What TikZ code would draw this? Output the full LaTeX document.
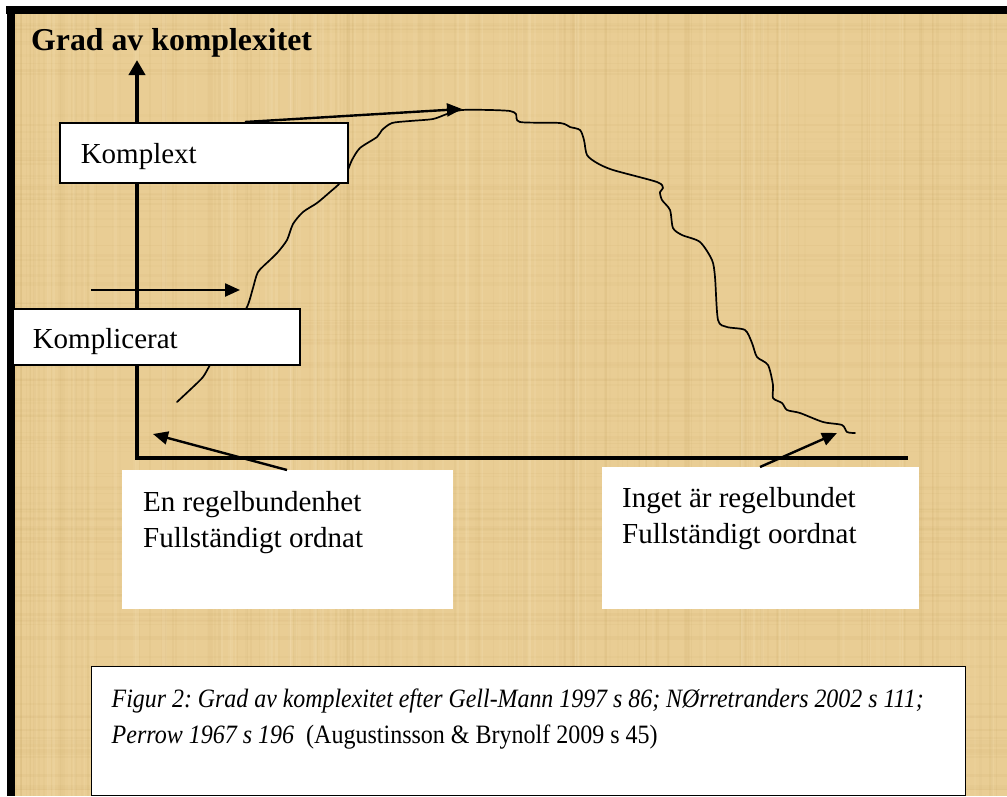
\documentclass[tikz,border=0pt]{standalone}
\usepackage{fontspec}
\setmainfont{Liberation Serif}
\usepackage{graphicx}
\usetikzlibrary{arrows.meta}
\definecolor{papyrus}{RGB}{233,205,148}
\definecolor{papyrusdark}{RGB}{190,155,85}
\definecolor{papyruslight}{RGB}{248,230,190}

% width, height, indent, first baseline, text
\newcommand{\boxtxt}[5]{%
  \begin{minipage}[t][#2pt][t]{#1pt}\fontsize{29}{36.5}\selectfont\raggedright\leftskip=#3pt\relax
  \rule{0pt}{#4pt}#5\par\end{minipage}}

\tikzset{
  whitebox/.style={fill=white, inner sep=0pt, anchor=north west},
  framedbox/.style={whitebox, draw=black, line width=1.6pt},
  conn/.style={line width=2.4pt, -{Triangle[length=15pt,width=13pt]}},
  axisline/.style={line width=4pt, line join=miter},
  curveline/.style={line width=1.7pt, line join=round, line cap=round},
}

\begin{document}
\begin{tikzpicture}[x=1pt,y=-1pt]
\useasboundingbox (0,0) rectangle (1007,796);
% background
\fill[white] (0,0) rectangle (1007,796);
\fill[papyrus] (15,14) rectangle (1007,796);
\begin{scope}
  \clip (15,14) rectangle (1007,796);
  \pgfmathsetseed{11}
  \foreach \i in {1,...,160}{
    \pgfmathsetmacro\xx{15+992*rnd}
    \pgfmathsetmacro\op{0.03+0.07*rnd}
    \pgfmathsetmacro\lw{0.8+2.5*rnd}
    \draw[papyrusdark, opacity=\op, line width=\lw pt] (\xx,14) -- (\xx,796);
  }
  \foreach \i in {1,...,130}{
    \pgfmathsetmacro\yy{14+782*rnd}
    \pgfmathsetmacro\op{0.03+0.06*rnd}
    \pgfmathsetmacro\lw{0.8+2.5*rnd}
    \draw[papyrusdark, opacity=\op, line width=\lw pt] (15,\yy) -- (1007,\yy);
  }
  \foreach \i in {1,...,80}{
    \pgfmathsetmacro\xx{15+992*rnd}
    \pgfmathsetmacro\op{0.08+0.12*rnd}
    \pgfmathsetmacro\lw{1+3*rnd}
    \draw[papyruslight, opacity=\op, line width=\lw pt] (\xx,14) -- (\xx,796);
  }
\end{scope}
% border
\fill[black] (6,6) rectangle (1007,14);
\fill[black] (7,6) rectangle (15,796);

% title
\node[anchor=base west, inner sep=0pt, font=\fontsize{31.8}{36}\selectfont\bfseries] (title) at (31,50) {Grad av komplexitet};

% curve
\draw[curveline] plot[smooth, tension=0.45] coordinates {
 (177,402) (193,387) (203,377) (210,365) (222,345) (234,326) (247,307)
 (253,288) (258,272) (270,260) (278,252) (287,240) (293,224) (303,212)
 (317,203) (330,192) (340,183) (347,172) (352,160) (360,148) (377,137)
 (382,130) (392,123) (410,121) (433,119) (447,114) (462,110) (490,110)
 (510,111) (516,114) (520,122) (560,123) (570,127) (580,130) (584,140)
 (587,155) (597,163) (613,170) (657,182) (663,188) (660,192) (662,200)
 (670,210) (673,228) (682,235) (700,242) (712,260) (715,277) (718,320)
 (727,327) (745,330) (752,343) (757,357) (768,365) (773,385) (773,398)
 (782,403) (787,410) (800,413) (823,422) (842,425) (847,432) (855,433)};

% axes
\coordinate (origin) at (137,458);
\coordinate (ytop) at (137,60);
\coordinate (xend) at (908,458);
\draw[axisline, {Triangle[length=15pt,width=16pt]}-] (ytop) -- (origin) -- (xend);

% boxes
\node[framedbox] (komplext) at (59,122) {\boxtxt{288}{60}{21}{41}{Komplext}};
\node[framedbox] (komplicerat) at (12,308) {\boxtxt{287}{56}{20}{40}{Komplicerat}};
\node[whitebox] (enreg) at (122,470) {\boxtxt{331}{139}{21}{41}{En regelbundenhet\\Fullständigt ordnat}};
\node[whitebox] (inget) at (602,467) {\boxtxt{317}{142}{20}{40}{Inget är regelbundet\\Fullständigt oordnat}};
\node[framedbox, line width=1.4pt] (caption) at (91,666) {%
  \begin{minipage}[t][129pt][t]{874pt}\fontsize{26.5}{36}\selectfont\frenchspacing\raggedright\leftskip=20pt\relax
  \rule{0pt}{41pt}\resizebox{812pt}{\height}{\itshape Figur 2: Grad av komplexitet efter Gell-Mann 1997 s 86; NØrretranders 2002 s 111;}\\
  \resizebox{546pt}{\height}{\itshape Perrow 1967 s 196\upshape\ \ (Augustinsson \& Brynolf 2009 s 45)}\par
  \end{minipage}};

% connectors
\coordinate (peak) at (462,109);
\coordinate (hstart) at (91,290);
\coordinate (hend) at (240,290);
\coordinate (lowleft) at (153,434);
\coordinate (lowright) at (837,433);
\draw[conn] ([xshift=186pt]komplext.north west) -- (peak);
\draw[conn] (hstart) -- (hend);
\draw[conn] ([xshift=165pt]enreg.north west) -- (lowleft);
\draw[conn] ([xshift=158pt]inget.north west) -- (lowright);
\end{tikzpicture}
\end{document}
